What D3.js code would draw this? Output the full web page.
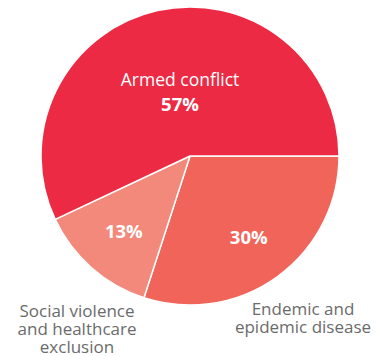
<!DOCTYPE html>
<html>
<head>
<meta charset="utf-8">
<script src="https://cdn.jsdelivr.net/npm/d3@7"></script>
<style>
  body { margin: 0; background: #fff; }
  text { font-family: "Open Sans", sans-serif; }
</style>
</head>
<body>
<script>
// Data
const categories = ['Endemic and epidemic disease', 'Social violence and healthcare exclusion', 'Armed conflict'];
const shares = [30, 13, 57];
const colors = ['#F0645A', '#F2897A', '#ED2A44'];

const width = 379, height = 356;
const cx = 190, cy = 156, radius = 149;

const svg = d3.select('body').append('svg')
  .attr('width', width)
  .attr('height', height);

const g = svg.append('g').attr('transform', `translate(${cx},${cy})`);

// pie starts at 3 o'clock and runs clockwise
const pie = d3.pie().sort(null)
  .startAngle(Math.PI / 2)
  .endAngle(Math.PI / 2 + 2 * Math.PI);
const arcs = pie(shares);

const arc = d3.arc().innerRadius(0).outerRadius(radius);

g.selectAll('path.slice')
  .data(arcs)
  .enter().append('path')
  .attr('class', 'slice')
  .attr('d', arc)
  .attr('fill', (d, i) => colors[i])
  .attr('stroke', '#fff')
  .attr('stroke-width', 1.5)
  .attr('stroke-linejoin', 'round');

// percentage labels inside the slices
const labelArc = d3.arc().innerRadius(100).outerRadius(100);
arcs.forEach((d, i) => {
  let [x, y] = labelArc.centroid(d);
  if (i === 2) { x = -10; y = -52; }
  const t = g.append('text')
    .attr('text-anchor', 'middle')
    .attr('fill', '#fff');
  if (i === 2) {
    t.append('tspan').attr('x', x).attr('y', y - 18)
      .attr('font-size', 17.5).text(categories[2]);
  }
  t.append('tspan').attr('x', x).attr('y', y + 7)
    .attr('font-size', 18.5).attr('font-weight', 'bold')
    .text(shares[i] + '%');
});

// outside labels
const outside = [
  { lines: ['Endemic and', 'epidemic disease'], x: 303, y: 315 },
  { lines: ['Social violence', 'and healthcare', 'exclusion'], x: 77, y: 317 }
];
outside.forEach(o => {
  const t = svg.append('text')
    .attr('text-anchor', 'middle')
    .attr('fill', '#6b6b6b')
    .attr('font-size', 17);
  o.lines.forEach((l, k) => {
    t.append('tspan').attr('x', o.x).attr('y', o.y + k * 18).text(l);
  });
});
</script>
</body>
</html>
